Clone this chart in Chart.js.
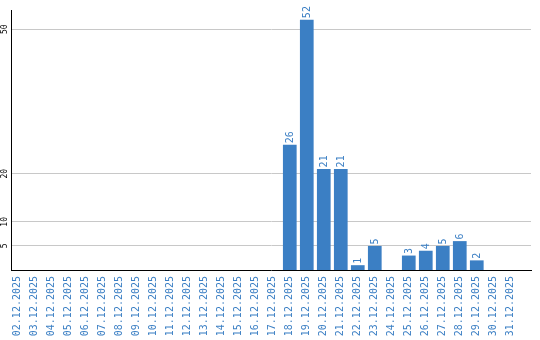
<!DOCTYPE html>
<html>
<head>
<meta charset="utf-8">
<script src="https://cdn.jsdelivr.net/npm/chart.js@4/dist/chart.umd.min.js"></script>
<style>
html,body{margin:0;padding:0;background:#fff;}
#wrap{width:540px;height:340px;}
</style>
</head>
<body>
<div id="wrap"><canvas id="c" width="540" height="340"></canvas></div>
<script>
const categories = ["02.12.2025","03.12.2025","04.12.2025","05.12.2025","06.12.2025","07.12.2025","08.12.2025","09.12.2025","10.12.2025","11.12.2025","12.12.2025","13.12.2025","14.12.2025","15.12.2025","16.12.2025","17.12.2025","18.12.2025","19.12.2025","20.12.2025","21.12.2025","22.12.2025","23.12.2025","24.12.2025","25.12.2025","26.12.2025","27.12.2025","28.12.2025","29.12.2025","30.12.2025","31.12.2025"];
const values = [0,0,0,0,0,0,0,0,0,0,0,0,0,0,0,0,26,52,21,21,1,5,0,3,4,5,6,2,0,0];
const yTicks = [5,10,20,50];

const BLUE = 'rgb(59,127,196)';
const MONO = '"DejaVu Sans Mono", monospace';

const valueLabels = {
  id: 'valueLabels',
  afterDatasetsDraw(chart) {
    const ctx = chart.ctx;
    const meta = chart.getDatasetMeta(0);
    ctx.save();
    ctx.fillStyle = BLUE;
    ctx.font = '10px ' + MONO;
    ctx.textAlign = 'left';
    ctx.textBaseline = 'middle';
    meta.data.forEach((el, i) => {
      const v = values[i];
      if (!v) return;
      ctx.save();
      ctx.translate(el.x, el.y - 1.5);
      ctx.rotate(-Math.PI / 2);
      ctx.fillText(String(v), 0, 0.5);
      ctx.restore();
    });
    ctx.restore();
  }
};

const yLabels = {
  id: 'yLabels',
  afterDraw(chart) {
    const ctx = chart.ctx;
    const ys = chart.scales.y;
    ctx.save();
    ctx.fillStyle = '#000';
    ctx.font = '8px ' + MONO;
    ctx.textAlign = 'center';
    ctx.textBaseline = 'middle';
    yTicks.forEach(t => {
      const py = ys.getPixelForValue(t);
      ctx.save();
      ctx.translate(4.5, py);
      ctx.rotate(-Math.PI / 2);
      ctx.fillText(String(t), 0, 0);
      ctx.restore();
    });
    ctx.restore();
  }
};

new Chart(document.getElementById('c'), {
  type: 'bar',
  data: {
    datasets: [{
      data: values.map((v, i) => ({x: i, y: v})),
      backgroundColor: BLUE,
      borderWidth: 0,
      categoryPercentage: 1,
      barPercentage: 0.806
    }]
  },
  options: {
    responsive: false,
    animation: false,
    layout: {padding: {top: 10, right: 9, left: 0, bottom: 0}},
    plugins: {legend: {display: false}, tooltip: {enabled: false}},
    scales: {
      x: {
        type: 'linear',
        offset: false,
        min: -0.4,
        max: 30.19,
        afterBuildTicks(scale) { scale.ticks = categories.map((_, i) => ({value: i})); },
        afterFit(scale) { scale.height = 70; },
        grid: {display: true, color: 'rgba(0,0,0,0)', drawTicks: false},
        border: {display: true, color: '#000', width: 1},
        ticks: {
          autoSkip: false,
          minRotation: 90,
          maxRotation: 90,
          padding: 6,
          color: BLUE,
          font: {family: MONO, size: 10},
          callback: (v) => categories[v] !== undefined ? categories[v] : ''
        }
      },
      y: {
        min: 0,
        max: 54,
        afterBuildTicks(scale) { scale.ticks = yTicks.map(v => ({value: v})); },
        afterFit(scale) { scale.width = 11; },
        grid: {color: '#c8c8c8', drawTicks: false},
        border: {display: true, color: '#000', width: 1},
        ticks: {display: false}
      }
    }
  },
  plugins: [valueLabels, yLabels]
});
</script>
</body>
</html>
